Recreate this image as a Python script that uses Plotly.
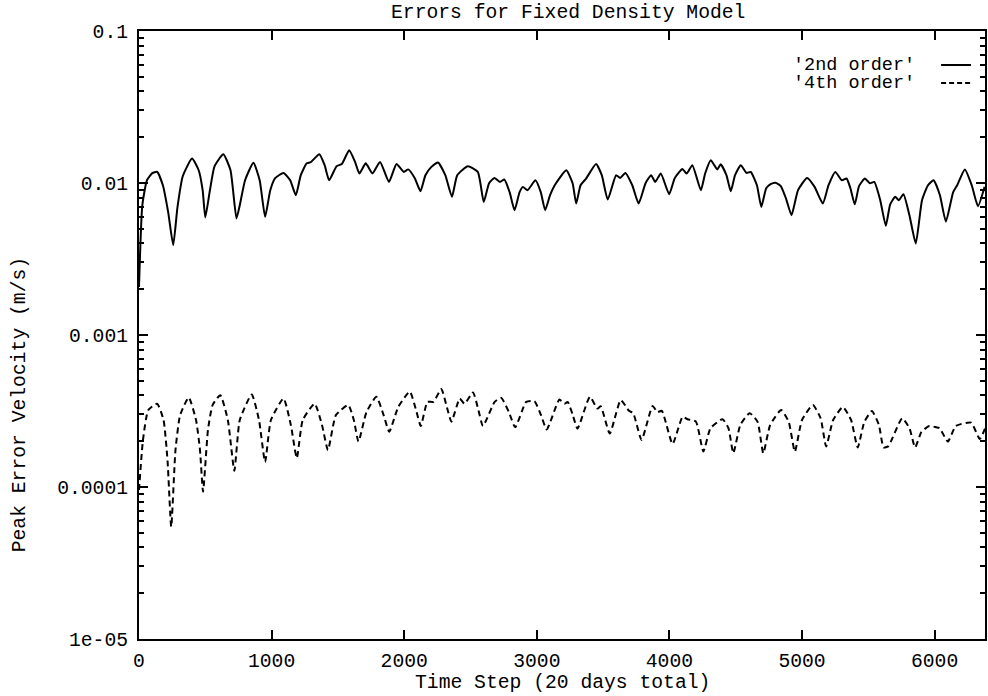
import plotly.graph_objects as go

# ---- data ----
t_2nd = [0, 25, 60, 100, 137, 180, 220, 258, 290, 330, 400, 450, 480, 500, 535, 570, 636, 690, 735, 760,
         800, 863, 910, 951, 990, 1027, 1090, 1140, 1183, 1220, 1265, 1295, 1360, 1400, 1434, 1490, 1530,
         1585, 1630, 1662, 1710, 1760, 1818, 1885, 1942, 1997, 2030, 2080, 2123, 2160, 2205, 2255, 2310,
         2360, 2400, 2480, 2555, 2600, 2640, 2680, 2722, 2755, 2795, 2832, 2870, 2895, 2930, 2990, 3030,
         3063, 3100, 3135, 3222, 3270, 3297, 3330, 3372, 3447, 3490, 3535, 3598, 3628, 3668, 3720, 3768,
         3820, 3862, 3893, 3935, 3998, 4040, 4098, 4130, 4173, 4237, 4270, 4312, 4361, 4387, 4430, 4463,
         4495, 4538, 4582, 4613, 4660, 4693, 4730, 4763, 4800, 4840, 4880, 4921, 4970, 5038, 5095, 5157,
         5200, 5251, 5300, 5336, 5365, 5398, 5430, 5474, 5512, 5545, 5590, 5632, 5665, 5703, 5730, 5765,
         5810, 5858, 5905, 5950, 5992, 6040, 6085, 6140, 6170, 6228, 6280, 6327, 6377]
err_2nd = [0.00207, 0.00714, 0.01043, 0.01160, 0.01183, 0.00967, 0.00643, 0.00390, 0.00692, 0.01108,
           0.01449, 0.01213, 0.00897, 0.00594, 0.00897, 0.01290, 0.01546, 0.01213, 0.00585, 0.00714,
           0.01043, 0.01359, 0.01043, 0.00599, 0.00897, 0.01075, 0.01165, 0.01043, 0.00831, 0.01125,
           0.01347, 0.01371, 0.01546, 0.01309, 0.01043, 0.01290, 0.01334, 0.01643, 0.01371, 0.01155,
           0.01347, 0.01155, 0.01376, 0.01017, 0.01334, 0.01183, 0.01229, 0.01075, 0.00883, 0.01125,
           0.01277, 0.01366, 0.01125, 0.00811, 0.01125, 0.01290, 0.01183, 0.00751, 0.00997, 0.01080,
           0.01017, 0.01054, 0.00870, 0.00663, 0.00870, 0.00943, 0.00897, 0.01043, 0.00870, 0.00663,
           0.00831, 0.00967, 0.01213, 0.00997, 0.00733, 0.00967, 0.01070, 0.01334, 0.01125, 0.00779,
           0.01125, 0.01080, 0.01165, 0.00967, 0.00733, 0.00997, 0.01125, 0.01017, 0.01155, 0.00844,
           0.01075, 0.01235, 0.01155, 0.01309, 0.00897, 0.01160, 0.01412, 0.01229, 0.01328, 0.01125,
           0.00883, 0.01125, 0.01309, 0.01165, 0.01183, 0.00967, 0.00696, 0.00923, 0.00982, 0.01005,
           0.00953, 0.00787, 0.00614, 0.00897, 0.01080, 0.00943, 0.00733, 0.00967, 0.01183, 0.01043,
           0.01070, 0.00923, 0.00724, 0.00953, 0.01070, 0.00997, 0.01017, 0.00771, 0.00523, 0.00724,
           0.00811, 0.00771, 0.00844, 0.00614, 0.00400, 0.00771, 0.00967, 0.01043, 0.00831, 0.00557,
           0.00870, 0.00967, 0.01229, 0.00967, 0.00703, 0.00943]

t_4th = [0, 30, 70, 137, 185, 215, 243, 275, 310, 375, 430, 460, 483, 520, 555, 613, 670, 719, 760, 850,
         905, 951, 995, 1090, 1145, 1190, 1235, 1325, 1380, 1425, 1485, 1578, 1620, 1655, 1715, 1790,
         1845, 1887, 1955, 2042, 2090, 2125, 2175, 2220, 2280, 2320, 2356, 2419, 2455, 2519, 2560, 2594,
         2682, 2732, 2790, 2837, 2920, 2982, 3030, 3075, 3170, 3208, 3233, 3270, 3307, 3400, 3457, 3482,
         3550, 3633, 3695, 3727, 3790, 3873, 3910, 3943, 4024, 4100, 4137, 4200, 4256, 4310, 4400, 4445,
         4482, 4535, 4605, 4665, 4708, 4760, 4843, 4900, 4946, 5000, 5082, 5140, 5182, 5235, 5308, 5370,
         5420, 5470, 5527, 5580, 5615, 5650, 5755, 5810, 5853, 5900, 5960, 6013, 6038, 6100, 6160, 6275,
         6340, 6380]
err_4th = [0.0000955, 0.000204, 0.000321, 0.000353, 0.000276, 0.000150, 0.0000547, 0.000175, 0.000297,
           0.000388, 0.000276, 0.000175, 0.0000930, 0.000237, 0.000346, 0.000402, 0.000276, 0.000128,
           0.000276, 0.000406, 0.000276, 0.000146, 0.000276, 0.000382, 0.000256, 0.000155, 0.000276,
           0.000353, 0.000256, 0.000175, 0.000297, 0.000346, 0.000276, 0.000199, 0.000310, 0.000392,
           0.000297, 0.000231, 0.000336, 0.000424, 0.000320, 0.000252, 0.000363, 0.000363, 0.000441,
           0.000340, 0.000269, 0.000382, 0.000353, 0.000419, 0.000320, 0.000252, 0.000363, 0.000386,
           0.000310, 0.000247, 0.000363, 0.000367, 0.000300, 0.000239, 0.000376, 0.000353, 0.000363,
           0.000300, 0.000242, 0.000392, 0.000328, 0.000340, 0.000225, 0.000373, 0.000317, 0.000306,
           0.000204, 0.000341, 0.000311, 0.000317, 0.000192, 0.000290, 0.000279, 0.000269, 0.000171,
           0.000244, 0.000279, 0.000244, 0.000167, 0.000256, 0.000306, 0.000268, 0.000167, 0.000256,
           0.000321, 0.000268, 0.000171, 0.000276, 0.000346, 0.000284, 0.000185, 0.000276, 0.000336,
           0.000276, 0.000182, 0.000268, 0.000316, 0.000256, 0.000182, 0.000185, 0.000283, 0.000244,
           0.000182, 0.000230, 0.000252, 0.000247, 0.000244, 0.000199, 0.000252, 0.000265, 0.000207,
           0.000242]

x_ticks = [0, 1000, 2000, 3000, 4000, 5000, 6000]
y_ticks = [1e-5, 1e-4, 1e-3, 1e-2, 1e-1]
y_tick_labels = ["1e-05", "0.0001", "0.001", "0.01", "0.1"]
series_names = ["'2nd order'", "'4th order'"]

FONT = "Liberation Mono, Courier New, monospace"
FS = 19.7
LFS = 18.5

# plot area targeted at screen x 139..987, y 31..639 (body margin removed below)
fig = go.Figure()
fig.add_trace(go.Scatter(x=t_2nd, y=err_2nd, mode="lines", name=series_names[0],
                         line=dict(color="black", width=2, shape="spline", smoothing=0.5)))
fig.add_trace(go.Scatter(x=t_4th, y=err_4th, mode="lines", name=series_names[1],
                         line=dict(color="black", width=2, dash="6px,4px", shape="spline", smoothing=0.5)))

minor_y = [m * 10 ** e for e in range(-5, -1) for m in range(2, 10)]

fig.update_layout(
    width=988, height=696,
    margin=dict(l=139, r=1, t=31, b=57),
    paper_bgcolor="white", plot_bgcolor="white",
    showlegend=False,
    font=dict(family=FONT, size=FS, color="black"),
    xaxis=dict(range=[0, 6380], tickmode="array", tickvals=x_ticks,
               ticks="inside", ticklen=9, tickwidth=1.5, tickcolor="black",
               showline=True, linewidth=2, linecolor="black", mirror="allticks",
               showgrid=False, zeroline=False, ticklabelstandoff=2,
               tickfont=dict(family=FONT, size=FS, color="black")),
    yaxis=dict(type="log", range=[-5, -1], tickmode="array", tickvals=y_ticks, ticktext=y_tick_labels,
               ticks="inside", ticklen=9, tickwidth=1.5, tickcolor="black",
               minor=dict(tickmode="array", tickvals=minor_y, ticks="inside", ticklen=5,
                          tickwidth=1.5, tickcolor="black", showgrid=False),
               showline=True, linewidth=2, linecolor="black", mirror="allticks",
               showgrid=False, zeroline=False, ticklabelstandoff=5,
               tickfont=dict(family=FONT, size=FS, color="black")),
)

annots = [
    dict(text="Errors for Fixed Density Model", x=(569 - 139) / 848, y=(639 - 13) / 608,
         xanchor="center", yanchor="middle", size=FS),
    dict(text="Time Step (20 days total)", x=(563 - 139) / 848, y=(639 - 683) / 608,
         xanchor="center", yanchor="middle", size=FS),
    dict(text="Peak Error Velocity (m/s)", x=(20 - 139) / 848, y=(639 - 405) / 608, xanchor="center",
         yanchor="middle", textangle=-90, size=FS),
    dict(text=series_names[0], x=(919 - 139) / 848, y=(639 - 65) / 608, xanchor="right", yanchor="middle",
         size=LFS),
    dict(text=series_names[1], x=(919 - 139) / 848, y=(639 - 83) / 608, xanchor="right", yanchor="middle",
         size=LFS),
]
for a in annots:
    s = a.pop("size")
    fig.add_annotation(xref="paper", yref="paper", showarrow=False,
                       font=dict(family=FONT, size=s, color="black"), **a)

lx0, lx1 = (943 - 139) / 848, (973 - 139) / 848
fig.add_shape(type="line", xref="paper", yref="paper", x0=lx0, x1=lx1,
              y0=(639 - 65) / 608, y1=(639 - 65) / 608, line=dict(color="black", width=2))
fig.add_shape(type="line", xref="paper", yref="paper", x0=lx0, x1=lx1,
              y0=(639 - 83) / 608, y1=(639 - 83) / 608, line=dict(color="black", width=2, dash="5px,3px"))

fig.write_html("out.html", config={"displayModeBar": False},
               post_script="document.body.style.margin='0';document.body.style.overflow='hidden';")
